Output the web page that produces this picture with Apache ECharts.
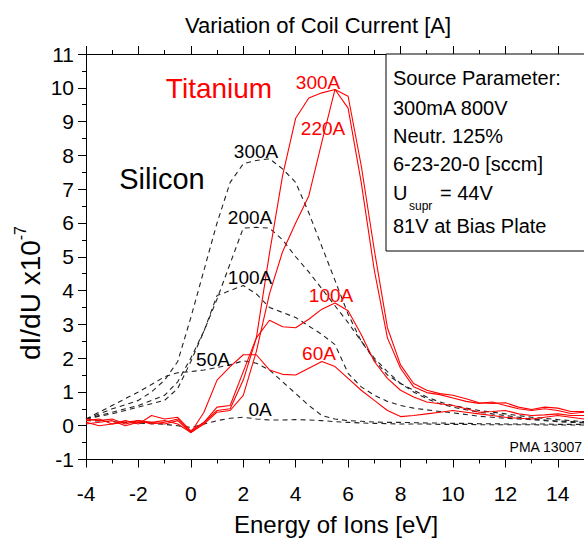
<!DOCTYPE html>
<html>
<head>
<meta charset="utf-8">
<script src="https://cdn.jsdelivr.net/npm/echarts@6/dist/echarts.min.js"></script>
<style>
html,body{margin:0;padding:0;background:#fff;}
#chart{width:584px;height:538px;}
</style>
</head>
<body>
<div id="chart"></div>
<script>
// Energy of ions [eV]
const energy = [-4,-3.5,-3,-2.5,-2,-1.5,-1,-0.5,0,0.5,1,1.5,2,2.5,3,3.5,4,4.5,5,5.5,6,6.5,7,7.5,8,8.5,9,9.5,10,10.5,11,11.5,12,12.5,13,13.5,14,14.5,15];

// Titanium (red, solid)
const ti300 = [0.15,0.2,0.05,0.1,0.15,0.05,0.1,0.2,-0.2,0.1,0.45,0.5,1.35,2.6,5.1,7.4,9.1,9.7,9.85,9.95,9.75,7.7,5.2,2.9,1.8,1.25,1.05,0.95,0.9,0.8,0.68,0.66,0.68,0.55,0.48,0.55,0.52,0.42,0.42];
const ti220 = [0.05,0.1,0.15,0.0,0.1,0.1,0.15,0.05,-0.2,0.05,0.4,0.45,0.9,2.2,3.9,5.15,6.0,6.8,8.4,9.95,9.4,7.2,4.6,2.6,1.7,1.15,0.98,0.92,0.82,0.72,0.66,0.7,0.6,0.5,0.45,0.5,0.45,0.36,0.4];
const ti100 = [0.1,0.0,0.05,0.15,0.05,0.3,0.2,0.25,-0.15,0.1,0.55,0.6,1.6,2.6,3.12,2.93,2.9,3.15,3.45,3.63,3.4,2.7,1.9,1.4,1.05,0.85,0.7,0.65,0.6,0.5,0.4,0.42,0.45,0.35,0.3,0.32,0.35,0.3,0.3];
const ti60 = [0.2,0.15,0.2,0.05,0.15,0.1,0.05,0.15,-0.2,0.4,1.35,1.75,2.1,2.1,1.65,1.52,1.5,1.7,1.9,1.75,1.4,1.05,0.75,0.45,0.27,0.3,0.35,0.4,0.45,0.4,0.35,0.3,0.25,0.22,0.2,0.25,0.3,0.25,0.2];

// Silicon (black, dashed)
const si300 = [0.2,0.35,0.5,0.62,0.75,1.0,1.35,1.9,3.2,4.6,6.0,7.2,7.75,7.85,7.9,7.6,7.2,6.3,5.3,4.3,3.3,2.5,1.95,1.5,1.25,1.05,0.85,0.7,0.6,0.52,0.45,0.4,0.35,0.3,0.25,0.22,0.18,0.15,0.12];
const si200 = [0.2,0.3,0.4,0.5,0.6,0.75,0.9,1.3,2.0,2.8,3.75,4.8,5.85,5.87,5.85,5.5,5.0,4.55,4.05,3.55,3.05,2.5,2.0,1.6,1.25,1.0,0.8,0.65,0.55,0.47,0.4,0.35,0.3,0.25,0.2,0.17,0.14,0.12,0.1];
const si100 = [0.2,0.28,0.35,0.45,0.55,0.65,0.75,1.1,1.9,2.8,3.85,4.0,4.15,3.9,3.5,3.35,3.2,2.95,2.7,2.4,1.55,1.15,0.9,0.72,0.6,0.52,0.47,0.42,0.38,0.33,0.28,0.25,0.22,0.2,0.18,0.15,0.12,0.1,0.08];
const si50 = [0.2,0.4,0.6,0.8,1.0,1.22,1.45,1.57,1.6,1.65,1.72,1.8,1.92,1.85,1.65,1.3,0.95,0.6,0.3,0.2,0.15,0.13,0.11,0.1,0.1,0.09,0.08,0.08,0.07,0.07,0.06,0.06,0.05,0.05,0.05,0.05,0.04,0.04,0.04];
const si0 = [0.15,0.14,0.12,0.1,0.08,0.06,0.04,0.0,-0.05,0.05,0.15,0.22,0.25,0.2,0.17,0.17,0.18,0.17,0.15,0.12,0.1,0.08,0.07,0.06,0.05,0.05,0.05,0.04,0.04,0.04,0.03,0.03,0.03,0.03,0.03,0.02,0.02,0.02,0.02];

const xTicks = {min: -4, max: 15, interval: 2};
const yTicks = {min: -1, max: 11, interval: 1};

const tiSeries = [['Ti 300A', ti300], ['Ti 220A', ti220], ['Ti 100A', ti100], ['Ti 60A', ti60]];
const siSeries = [['Si 300A', si300], ['Si 200A', si200], ['Si 100A', si100], ['Si 50A', si50], ['Si 0A', si0]];

const infoLines = ['Source Parameter:', '300mA 800V', 'Neutr. 125%', '6-23-20-0 [sccm]'];
const infoLast = '81V at Bias Plate';

const FONT = '"Liberation Sans", Arial, sans-serif';

function pairs(ys){ return energy.map((x,i)=>[x, ys[i]]); }

const series = [];
siSeries.forEach(([name, ys]) => series.push({
  name, type:'line', data: pairs(ys), showSymbol:false, smooth:false, silent:true,
  lineStyle:{color:'#222', width:1.1, type:[5,4]}, z:2
}));
tiSeries.forEach(([name, ys]) => series.push({
  name, type:'line', data: pairs(ys), showSymbol:false, smooth:false, silent:true,
  lineStyle:{color:'#ff0000', width:1.1}, z:3
}));

const axisCommon = {
  type:'value',
  axisLine:{show:true, onZero:false, lineStyle:{color:'#000', width:1}},
  axisTick:{show:true, inside:false, length:8, lineStyle:{color:'#000', width:1}},
  minorTick:{show:true, splitNumber:2, length:4, lineStyle:{color:'#000', width:1}},
  splitLine:{show:false},
  minorSplitLine:{show:false}
};

const txt = (x, y, text, size, color, align) => ({
  type:'text', x, y, silent:true, z:100,
  style:{text, fill:color||'#000', font: size+'px '+FONT, align: align||'center', verticalAlign:'middle'}
});

const graphics = [
  txt(318, 25, 'Variation of Coil Current [A]', 22),
  txt(336, 524, 'Energy of Ions [eV]', 24),
  {
    type:'text', x:28, y:293, rotation:Math.PI/2, silent:true, z:100,
    style:{
      text:'{a|dI/dU x10}{b|-7}',
      align:'center', verticalAlign:'middle',
      rich:{
        a:{fontSize:28, fontFamily:FONT, fill:'#000', lineHeight:32, verticalAlign:'bottom'},
        b:{fontSize:16, fontFamily:FONT, fill:'#000', lineHeight:32, verticalAlign:'top'}
      }
    }
  },
  {type:'rect', shape:{x:386, y:54, width:220, height:197}, style:{fill:'#fff', stroke:'#000', lineWidth:1}, z:50, silent:true},
  txt(219, 88, 'Titanium', 28, '#ff0000'),
  txt(162, 179, 'Silicon', 29),
  // Silicon labels
  txt(256, 151, '300A', 19),
  txt(250, 217, '200A', 19),
  txt(250, 277, '100A', 19),
  txt(213, 359, '50A', 19),
  txt(260, 409, '0A', 19),
  // Titanium labels
  txt(318, 82, '300A', 19, '#ff0000'),
  txt(323, 128, '220A', 19, '#ff0000'),
  txt(331, 295, '100A', 19, '#ff0000'),
  txt(319, 353, '60A', 19, '#ff0000'),
  txt(582, 447, 'PMA 13007', 14, '#000', 'right')
];
const infoY = [78, 107.5, 136, 164];
infoLines.forEach((t,i)=>graphics.push(txt(393, infoY[i], t, 20, '#000', 'left')));
graphics.push(txt(393, 193, 'U', 20, '#000', 'left'));
graphics.push(txt(409, 206, 'supr', 12, '#000', 'left'));
graphics.push(txt(440, 193, '= 44V', 20, '#000', 'left'));
graphics.push(txt(393, 226, infoLast, 20, '#000', 'left'));

const chart = echarts.init(document.getElementById('chart'), null, {renderer:'svg'});
chart.setOption({
  animation:false,
  backgroundColor:'#fff',
  grid:{left:86, right:0, top:54, bottom:78.5, containLabel:false},
  xAxis:[
    Object.assign({}, axisCommon, {
      min:xTicks.min, max:xTicks.max, interval:xTicks.interval, position:'bottom',
      axisLabel:{show:true, margin:23, fontSize:21, fontFamily:FONT, color:'#000', showMaxLabel:false}
    }),
    Object.assign({}, axisCommon, {
      min:xTicks.min, max:xTicks.max, interval:xTicks.interval, position:'top',
      axisLabel:{show:false}
    })
  ],
  yAxis:[
    Object.assign({}, axisCommon, {
      min:yTicks.min, max:yTicks.max, interval:yTicks.interval, position:'left',
      axisLabel:{show:true, margin:12, fontSize:21, fontFamily:FONT, color:'#000'}
    })
  ],
  series,
  graphic: graphics
});
</script>
</body>
</html>
